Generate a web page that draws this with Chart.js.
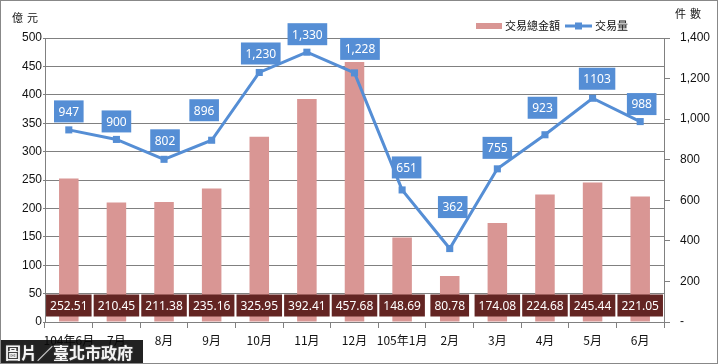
<!DOCTYPE html>
<html>
<head>
<meta charset="utf-8">
<script src="https://cdn.jsdelivr.net/npm/chart.js"></script>
<style>
  body { margin: 0; background: #fff; }
  #wrap { position: relative; width: 718px; height: 364px; }
  #frame { position: absolute; left: 0; top: 0; width: 718px; height: 364px; box-sizing: border-box; border: 1px solid #888; pointer-events: none; }
  .unit { position: absolute; font: 11px "Noto Sans CJK TC"; color: #111; letter-spacing: 4px; }
  #stamp { position: absolute; left: 0; top: 340px; width: 143px; height: 24px; background: rgba(10,10,10,0.9);
           color: #f4f4f4; font: bold 16px "Noto Sans CJK TC"; line-height: 24px; padding-left: 5px; box-sizing: border-box;
           text-shadow: 0 0 2px #666; }
</style>
</head>
<body>
<div id="wrap">
  <canvas id="chart" width="718" height="364"></canvas>
  <div class="unit" style="left:12px; top:9px;">億元</div>
  <div class="unit" style="left:675px; top:5px;">件數</div>
  <div id="stamp">圖片／臺北市政府</div>
  <div id="frame"></div>
</div>
<script>
const months = ['104年6月', '7月', '8月', '9月', '10月', '11月', '12月', '105年1月', '2月', '3月', '4月', '5月', '6月'];
const amount = [252.51, 210.45, 211.38, 235.16, 325.95, 392.41, 457.68, 148.69, 80.78, 174.08, 224.68, 245.44, 221.05];
const volume = [947, 900, 802, 896, 1230, 1330, 1228, 651, 362, 755, 923, 1103, 988];
const volumeText = ['947', '900', '802', '896', '1,230', '1,330', '1,228', '651', '362', '755', '923', '1103', '988'];

// where each blue label box sits relative to its point (dx, dy of the box centre)
const labelNudge = [[0, -18.5], [0, -18], [1, -19], [-7.5, -30], [1.5, -19], [0.5, -18], [5.5, -24],
                    [4.5, -22.5], [3, -41.5], [0, -21], [-2.5, -27], [4.5, -19.5], [1.5, -17.5]];

const pink = '#d99694';
const blue = '#558ed5';
const maroon = '#632523';
const gridGray = '#808080';

// labels in boxes + legend, drawn from the chart's own elements
const boxLabels = {
  id: 'boxLabels',
  afterDatasetsDraw(chart) {
    const ctx = chart.ctx;
    ctx.save();
    ctx.font = '12px "Noto Sans"';
    ctx.textAlign = 'center';
    ctx.textBaseline = 'middle';

    chart.getDatasetMeta(0).data.forEach((bar, i) => {
      const txt = amount[i].toFixed(2);
      const w = ctx.measureText(txt).width + 8;
      const cy = bar.base - 16;
      ctx.fillStyle = maroon;
      ctx.fillRect(bar.x - w / 2, cy - 11, w, 22);
      ctx.fillStyle = '#fff';
      ctx.fillText(txt, bar.x, cy + 1);
    });

    chart.getDatasetMeta(1).data.forEach((pt, i) => {
      const txt = volumeText[i];
      const w = ctx.measureText(txt).width + 9;
      const cx = pt.x + labelNudge[i][0];
      const cy = pt.y + labelNudge[i][1];
      ctx.fillStyle = blue;
      ctx.fillRect(cx - w / 2, cy - 11, w, 22);
      ctx.fillStyle = '#fff';
      ctx.fillText(txt, cx, cy + 1);
    });

    // legend
    ctx.font = '11px "Noto Sans CJK TC"';
    ctx.textAlign = 'left';
    ctx.fillStyle = pink;
    ctx.fillRect(476, 23, 26, 6);
    ctx.fillStyle = '#111';
    ctx.fillText(chart.data.datasets[0].label, 505, 26);
    ctx.strokeStyle = blue;
    ctx.lineWidth = 3;
    ctx.beginPath();
    ctx.moveTo(565, 26);
    ctx.lineTo(592, 26);
    ctx.stroke();
    ctx.fillStyle = blue;
    ctx.fillRect(575, 22.5, 7, 7);
    ctx.fillStyle = '#111';
    ctx.fillText(chart.data.datasets[1].label, 595, 26);
    ctx.restore();
  }
};

new Chart(document.querySelector('#chart').getContext('2d'), {
  data: {
    labels: months,
    datasets: [
      {
        type: 'bar',
        label: '交易總金額',
        data: amount,
        backgroundColor: pink,
        categoryPercentage: 1,
        barPercentage: 0.41,
        yAxisID: 'y',
        order: 2
      },
      {
        type: 'line',
        label: '交易量',
        data: volume,
        borderColor: blue,
        backgroundColor: blue,
        borderWidth: 3,
        pointStyle: 'rect',
        pointRadius: 5,
        pointBorderWidth: 0,
        tension: 0,
        yAxisID: 'y1',
        order: 1
      }
    ]
  },
  options: {
    responsive: false,
    animation: false,
    devicePixelRatio: 1,
    layout: { padding: { top: 38, left: 0, right: 0, bottom: 0 } },
    plugins: {
      legend: { display: false },
      tooltip: { enabled: false }
    },
    scales: {
      x: {
        offset: true,
        grid: { offset: true, drawOnChartArea: false, tickLength: 6, color: gridGray },
        border: { color: gridGray },
        ticks: { color: '#111', font: { size: 12, family: '"Noto Sans CJK TC"' }, padding: 5, maxRotation: 0, autoSkip: false },
        afterFit: (s) => { s.height = 42; }
      },
      y: {
        position: 'left',
        min: 0,
        max: 500,
        ticks: { stepSize: 50, color: '#111', font: { size: 12, family: '"Liberation Sans"' }, padding: 1 },
        grid: { color: gridGray, tickLength: 2 },
        border: { color: gridGray },
        afterFit: (s) => { s.width = 45; }
      },
      y1: {
        position: 'right',
        min: 0,
        max: 1400,
        ticks: {
          stepSize: 200,
          color: '#111',
          font: { size: 12, family: '"Liberation Sans"' },
          padding: 10,
          callback: (v) => v === 0 ? '-' : v.toLocaleString('en-US')
        },
        grid: { drawOnChartArea: false, tickLength: 6, color: gridGray },
        border: { color: gridGray },
        afterFit: (s) => { s.width = 54; }
      }
    }
  },
  plugins: [boxLabels]
});
</script>
</body>
</html>
